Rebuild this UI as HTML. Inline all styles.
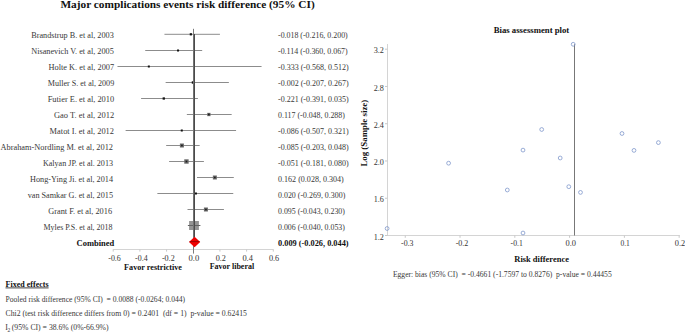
<!DOCTYPE html><html><head><meta charset="utf-8"><style>html,body{margin:0;padding:0;background:#fff;}svg{display:block;}text{font-family:"Liberation Serif",serif;white-space:pre;}</style></head><body>
<svg width="685" height="332" viewBox="0 0 685 332">
<rect width="685" height="332" fill="#fff"/>
<text x="60.4" y="7.7" font-size="10" font-weight="bold" fill="#111" textLength="254.3" lengthAdjust="spacingAndGlyphs">Major complications events risk difference (95% CI)</text>
<line x1="112.9" y1="249.5" x2="273.6" y2="249.5" stroke="#d4d4d4" stroke-width="1"/>
<line x1="113.21" y1="249.5" x2="113.21" y2="251.6" stroke="#c8c8c8" stroke-width="1"/>
<line x1="139.89" y1="249.5" x2="139.89" y2="251.6" stroke="#c8c8c8" stroke-width="1"/>
<line x1="166.57" y1="249.5" x2="166.57" y2="251.6" stroke="#c8c8c8" stroke-width="1"/>
<line x1="219.93" y1="249.5" x2="219.93" y2="251.6" stroke="#c8c8c8" stroke-width="1"/>
<line x1="246.61" y1="249.5" x2="246.61" y2="251.6" stroke="#c8c8c8" stroke-width="1"/>
<line x1="273.29" y1="249.5" x2="273.29" y2="251.6" stroke="#c8c8c8" stroke-width="1"/>
<text x="108.3" y="260.8" font-size="8.4" fill="#333" textLength="12.5" lengthAdjust="spacingAndGlyphs">-0.6</text>
<text x="135.1" y="260.8" font-size="8.4" fill="#333" textLength="12.5" lengthAdjust="spacingAndGlyphs">-0.4</text>
<text x="161.9" y="260.8" font-size="8.4" fill="#333" textLength="12.8" lengthAdjust="spacingAndGlyphs">-0.2</text>
<text x="188.6" y="260.8" font-size="8.4" fill="#333" textLength="10.7" lengthAdjust="spacingAndGlyphs">0.0</text>
<text x="215.7" y="260.8" font-size="8.4" fill="#333" textLength="10.2" lengthAdjust="spacingAndGlyphs">0.2</text>
<text x="242.4" y="260.8" font-size="8.4" fill="#333" textLength="10.5" lengthAdjust="spacingAndGlyphs">0.4</text>
<text x="268.9" y="260.8" font-size="8.4" fill="#333" textLength="10.3" lengthAdjust="spacingAndGlyphs">0.6</text>
<line x1="164.44" y1="34.30" x2="219.93" y2="34.30" stroke="#8c8c8c" stroke-width="1"/>
<line x1="145.23" y1="50.50" x2="202.19" y2="50.50" stroke="#8c8c8c" stroke-width="1"/>
<line x1="117.48" y1="66.50" x2="261.55" y2="66.50" stroke="#8c8c8c" stroke-width="1"/>
<line x1="165.64" y1="82.50" x2="228.87" y2="82.50" stroke="#8c8c8c" stroke-width="1"/>
<line x1="141.09" y1="98.50" x2="197.92" y2="98.50" stroke="#8c8c8c" stroke-width="1"/>
<line x1="186.85" y1="114.50" x2="231.67" y2="114.50" stroke="#8c8c8c" stroke-width="1"/>
<line x1="125.62" y1="130.50" x2="236.07" y2="130.50" stroke="#8c8c8c" stroke-width="1"/>
<line x1="166.17" y1="145.50" x2="199.65" y2="145.50" stroke="#8c8c8c" stroke-width="1"/>
<line x1="169.10" y1="161.50" x2="203.92" y2="161.50" stroke="#8c8c8c" stroke-width="1"/>
<line x1="196.99" y1="177.50" x2="233.80" y2="177.50" stroke="#8c8c8c" stroke-width="1"/>
<line x1="157.37" y1="193.50" x2="233.27" y2="193.50" stroke="#8c8c8c" stroke-width="1"/>
<line x1="187.51" y1="209.50" x2="223.93" y2="209.50" stroke="#8c8c8c" stroke-width="1"/>
<line x1="187.91" y1="225.50" x2="200.32" y2="225.50" stroke="#8c8c8c" stroke-width="1"/>
<rect x="189.75" y="33.20" width="2.20" height="2.20" fill="#111"/>
<rect x="177.04" y="49.50" width="2.00" height="2.00" fill="#111"/>
<rect x="147.83" y="65.50" width="2.00" height="2.00" fill="#111"/>
<rect x="191.78" y="81.30" width="2.40" height="2.40" fill="#111"/>
<rect x="162.62" y="97.35" width="2.30" height="2.30" fill="#111"/>
<rect x="207.21" y="112.85" width="3.30" height="3.30" fill="#6a6a6a"/>
<rect x="208.06" y="113.70" width="1.6" height="1.6" fill="#1a1a1a"/>
<rect x="180.78" y="129.50" width="2.00" height="2.00" fill="#111"/>
<rect x="179.91" y="143.50" width="4.00" height="4.00" fill="#6a6a6a"/>
<rect x="181.11" y="144.70" width="1.6" height="1.6" fill="#1a1a1a"/>
<rect x="184.25" y="159.30" width="4.40" height="4.40" fill="#6a6a6a"/>
<rect x="185.65" y="160.70" width="1.6" height="1.6" fill="#1a1a1a"/>
<rect x="212.86" y="175.50" width="4.00" height="4.00" fill="#6a6a6a"/>
<rect x="214.06" y="176.70" width="1.6" height="1.6" fill="#1a1a1a"/>
<rect x="194.92" y="192.50" width="2.00" height="2.00" fill="#111"/>
<rect x="203.92" y="207.50" width="4.00" height="4.00" fill="#6a6a6a"/>
<rect x="205.12" y="208.70" width="1.6" height="1.6" fill="#1a1a1a"/>
<rect x="189.1" y="221.0" width="9.8" height="9.0" fill="#949494"/>
<line x1="187.91" y1="225.50" x2="200.32" y2="225.50" stroke="#444" stroke-width="1" opacity="0.6"/>
<line x1="193.5" y1="28.8" x2="193.5" y2="253.6" stroke="#7c7c7c" stroke-width="1"/>
<line x1="194.4" y1="34" x2="194.4" y2="237" stroke="#4a4a4a" stroke-width="1.2"/>
<polygon points="189.0,241.9 194.6,236.7 200.2,241.9 194.6,247.2" fill="#ee0000"/>
<line x1="189.6" y1="241.6" x2="199.6" y2="241.6" stroke="#a00000" stroke-width="1"/>
<text x="31.2" y="38.30" font-size="8.7" fill="#383838" textLength="82.6" lengthAdjust="spacingAndGlyphs">Brandstrup B. et al, 2003</text>
<text x="278.0" y="38.30" font-size="8.2" fill="#383838" textLength="69.7" lengthAdjust="spacingAndGlyphs">-0.018 (-0.216, 0.200)</text>
<text x="31.2" y="54.27" font-size="8.7" fill="#383838" textLength="82.6" lengthAdjust="spacingAndGlyphs">Nisanevich V. et al, 2005</text>
<text x="278.0" y="54.27" font-size="8.2" fill="#383838" textLength="69.7" lengthAdjust="spacingAndGlyphs">-0.114 (-0.360, 0.067)</text>
<text x="48.5" y="70.24" font-size="8.7" fill="#383838" textLength="65.7" lengthAdjust="spacingAndGlyphs">Holte K. et al, 2007</text>
<text x="278.0" y="70.24" font-size="8.2" fill="#383838" textLength="70.6" lengthAdjust="spacingAndGlyphs">-0.333 (-0.568, 0.512)</text>
<text x="47.7" y="86.21" font-size="8.7" fill="#383838" textLength="66.5" lengthAdjust="spacingAndGlyphs">Muller S. et al, 2009</text>
<text x="278.0" y="86.21" font-size="8.2" fill="#383838" textLength="70.6" lengthAdjust="spacingAndGlyphs">-0.002 (-0.207, 0.267)</text>
<text x="47.7" y="102.18" font-size="8.7" fill="#383838" textLength="66.5" lengthAdjust="spacingAndGlyphs">Futier E. et al, 2010</text>
<text x="278.0" y="102.18" font-size="8.2" fill="#383838" textLength="70.6" lengthAdjust="spacingAndGlyphs">-0.221 (-0.391, 0.035)</text>
<text x="54.0" y="118.15" font-size="8.7" fill="#383838" textLength="60.2" lengthAdjust="spacingAndGlyphs">Gao T. et al, 2012</text>
<text x="278.0" y="118.15" font-size="8.2" fill="#383838" textLength="66.9" lengthAdjust="spacingAndGlyphs">0.117 (-0.048, 0.288)</text>
<text x="49.6" y="134.12" font-size="8.7" fill="#383838" textLength="64.4" lengthAdjust="spacingAndGlyphs">Matot I. et al, 2012</text>
<text x="278.0" y="134.12" font-size="8.2" fill="#383838" textLength="70.6" lengthAdjust="spacingAndGlyphs">-0.086 (-0.507, 0.321)</text>
<text x="0.5" y="150.09" font-size="8.7" fill="#383838" textLength="112.5" lengthAdjust="spacingAndGlyphs">Abraham-Nordling M. et al, 2012</text>
<text x="278.0" y="150.09" font-size="8.2" fill="#383838" textLength="70.6" lengthAdjust="spacingAndGlyphs">-0.085 (-0.203, 0.048)</text>
<text x="42.9" y="166.06" font-size="8.7" fill="#383838" textLength="70.1" lengthAdjust="spacingAndGlyphs">Kalyan JP. et al. 2013</text>
<text x="278.0" y="166.06" font-size="8.2" fill="#383838" textLength="70.6" lengthAdjust="spacingAndGlyphs">-0.051 (-0.181, 0.080)</text>
<text x="30.1" y="182.03" font-size="8.7" fill="#383838" textLength="82.9" lengthAdjust="spacingAndGlyphs">Hong-Ying Ji. et al, 2014</text>
<text x="278.0" y="182.03" font-size="8.2" fill="#383838" textLength="65.8" lengthAdjust="spacingAndGlyphs">0.162 (0.028, 0.304)</text>
<text x="27.7" y="198.00" font-size="8.7" fill="#383838" textLength="85.3" lengthAdjust="spacingAndGlyphs">van Samkar G. et al, 2015</text>
<text x="278.0" y="198.00" font-size="8.2" fill="#383838" textLength="67.3" lengthAdjust="spacingAndGlyphs">0.020 (-0.269, 0.300)</text>
<text x="48.2" y="213.97" font-size="8.7" fill="#383838" textLength="63.9" lengthAdjust="spacingAndGlyphs">Grant F. et al, 2016</text>
<text x="278.0" y="213.97" font-size="8.2" fill="#383838" textLength="66.9" lengthAdjust="spacingAndGlyphs">0.095 (-0.043, 0.230)</text>
<text x="43.4" y="229.94" font-size="8.7" fill="#383838" textLength="69.1" lengthAdjust="spacingAndGlyphs">Myles P.S. et al, 2018</text>
<text x="278.0" y="229.94" font-size="8.2" fill="#383838" textLength="66.9" lengthAdjust="spacingAndGlyphs">0.006 (-0.040, 0.053)</text>
<text x="76.6" y="245.91" font-size="8.6" font-weight="bold" fill="#111" textLength="37.6" lengthAdjust="spacingAndGlyphs">Combined</text>
<text x="278.0" y="245.91" font-size="8.4" font-weight="bold" fill="#111" textLength="70.6" lengthAdjust="spacingAndGlyphs">0.009 (-0.026, 0.044)</text>
<text x="124.1" y="270.0" font-size="8.5" font-weight="bold" fill="#111" textLength="57.9" lengthAdjust="spacingAndGlyphs">Favor restrictive</text>
<text x="209.7" y="269.4" font-size="8.5" font-weight="bold" fill="#111" textLength="44.5" lengthAdjust="spacingAndGlyphs">Favor liberal</text>
<text x="5.5" y="286.7" font-size="8.2" font-weight="bold" fill="#111" textLength="43.1" lengthAdjust="spacingAndGlyphs">Fixed effects</text>
<line x1="5.5" y1="287.9" x2="48.6" y2="287.9" stroke="#111" stroke-width="0.8"/>
<text x="5.5" y="301.7" font-size="7.9" fill="#383838" textLength="179.6" lengthAdjust="spacingAndGlyphs">Pooled risk difference (95% CI)  = 0.0088 (-0.0264; 0.044)</text>
<text x="5.5" y="315.6" font-size="7.9" fill="#383838" textLength="241.4" lengthAdjust="spacingAndGlyphs">Chi2 (test risk difference differs from 0) = 0.2401  (df = 1)  p-value = 0.62415</text>
<text x="5.3" y="329.9" font-size="7.9" fill="#383838">I</text>
<text x="7.6" y="332.3" font-size="5.5" fill="#383838">2</text>
<text x="11.8" y="329.9" font-size="7.9" fill="#383838" textLength="96.8" lengthAdjust="spacingAndGlyphs">(95% CI) = 38.6% (0%-66.9%)</text>
<text x="493.7" y="33.1" font-size="8.7" font-weight="bold" fill="#111" textLength="75.6" lengthAdjust="spacingAndGlyphs">Bias assessment plot</text>
<line x1="387.5" y1="44" x2="387.5" y2="236" stroke="#d4d4d4" stroke-width="1"/>
<line x1="387" y1="235.5" x2="679.8" y2="235.5" stroke="#d4d4d4" stroke-width="1"/>
<line x1="385" y1="49.20" x2="387.5" y2="49.20" stroke="#c8c8c8" stroke-width="1"/>
<text x="373.7" y="53.30" font-size="8.2" fill="#333" textLength="10.2" lengthAdjust="spacingAndGlyphs">3.2</text>
<line x1="385" y1="86.46" x2="387.5" y2="86.46" stroke="#c8c8c8" stroke-width="1"/>
<text x="373.7" y="90.56" font-size="8.2" fill="#333" textLength="10.2" lengthAdjust="spacingAndGlyphs">2.8</text>
<line x1="385" y1="123.72" x2="387.5" y2="123.72" stroke="#c8c8c8" stroke-width="1"/>
<text x="373.7" y="127.82" font-size="8.2" fill="#333" textLength="10.2" lengthAdjust="spacingAndGlyphs">2.4</text>
<line x1="385" y1="160.98" x2="387.5" y2="160.98" stroke="#c8c8c8" stroke-width="1"/>
<text x="373.7" y="165.08" font-size="8.2" fill="#333" textLength="10.2" lengthAdjust="spacingAndGlyphs">2.0</text>
<line x1="385" y1="198.24" x2="387.5" y2="198.24" stroke="#c8c8c8" stroke-width="1"/>
<text x="373.7" y="202.34" font-size="8.2" fill="#333" textLength="10.2" lengthAdjust="spacingAndGlyphs">1.6</text>
<line x1="385" y1="235.50" x2="387.5" y2="235.50" stroke="#c8c8c8" stroke-width="1"/>
<text x="373.7" y="239.60" font-size="8.2" fill="#333" textLength="10.2" lengthAdjust="spacingAndGlyphs">1.2</text>
<line x1="405.26" y1="235.5" x2="405.26" y2="237.8" stroke="#c8c8c8" stroke-width="1"/>
<text x="401.1" y="246.0" font-size="8.2" fill="#333" textLength="12.4" lengthAdjust="spacingAndGlyphs">-0.3</text>
<line x1="460.04" y1="235.5" x2="460.04" y2="237.8" stroke="#c8c8c8" stroke-width="1"/>
<text x="455.7" y="246.0" font-size="8.2" fill="#333" textLength="12.7" lengthAdjust="spacingAndGlyphs">-0.2</text>
<line x1="514.82" y1="235.5" x2="514.82" y2="237.8" stroke="#c8c8c8" stroke-width="1"/>
<text x="510.6" y="246.0" font-size="8.2" fill="#333" textLength="12.2" lengthAdjust="spacingAndGlyphs">-0.1</text>
<line x1="569.60" y1="235.5" x2="569.60" y2="237.8" stroke="#c8c8c8" stroke-width="1"/>
<text x="565.5" y="246.0" font-size="8.2" fill="#333" textLength="10.5" lengthAdjust="spacingAndGlyphs">0.0</text>
<line x1="624.38" y1="235.5" x2="624.38" y2="237.8" stroke="#c8c8c8" stroke-width="1"/>
<text x="620.4" y="246.0" font-size="8.2" fill="#333" textLength="9.4" lengthAdjust="spacingAndGlyphs">0.1</text>
<line x1="679.16" y1="235.5" x2="679.16" y2="237.8" stroke="#c8c8c8" stroke-width="1"/>
<text x="674.8" y="246.0" font-size="8.2" fill="#333" textLength="10.4" lengthAdjust="spacingAndGlyphs">0.2</text>
<line x1="574.5" y1="44.3" x2="574.5" y2="235.5" stroke="#777" stroke-width="1"/>
<circle cx="573.2" cy="44.3" r="1.9" fill="none" stroke="#7892c8" stroke-width="0.75"/>
<circle cx="387.1" cy="228.5" r="1.9" fill="none" stroke="#7892c8" stroke-width="0.75"/>
<circle cx="448.6" cy="163.2" r="1.9" fill="none" stroke="#7892c8" stroke-width="0.75"/>
<circle cx="507.3" cy="190.0" r="1.9" fill="none" stroke="#7892c8" stroke-width="0.75"/>
<circle cx="523.0" cy="150.1" r="1.9" fill="none" stroke="#7892c8" stroke-width="0.75"/>
<circle cx="523.0" cy="233.0" r="1.9" fill="none" stroke="#7892c8" stroke-width="0.75"/>
<circle cx="541.7" cy="129.5" r="1.9" fill="none" stroke="#7892c8" stroke-width="0.75"/>
<circle cx="560.2" cy="158.0" r="1.9" fill="none" stroke="#7892c8" stroke-width="0.75"/>
<circle cx="568.8" cy="186.7" r="1.9" fill="none" stroke="#7892c8" stroke-width="0.75"/>
<circle cx="580.5" cy="192.4" r="1.9" fill="none" stroke="#7892c8" stroke-width="0.75"/>
<circle cx="622.0" cy="133.5" r="1.9" fill="none" stroke="#7892c8" stroke-width="0.75"/>
<circle cx="634.0" cy="150.4" r="1.9" fill="none" stroke="#7892c8" stroke-width="0.75"/>
<circle cx="658.4" cy="142.6" r="1.9" fill="none" stroke="#7892c8" stroke-width="0.75"/>
<text x="514.3" y="261.7" font-size="8.5" font-weight="bold" fill="#111" textLength="54.6" lengthAdjust="spacingAndGlyphs">Risk difference</text>
<text transform="translate(366.7,166.6) rotate(-90)" x="0" y="0" font-size="8.6" font-weight="bold" fill="#111" textLength="66.8" lengthAdjust="spacingAndGlyphs">Log (Sample size)</text>
<text x="392.9" y="277.0" font-size="7.7" fill="#383838" textLength="218.8" lengthAdjust="spacingAndGlyphs">Egger: bias (95% CI)  = -0.4661 (-1.7597 to 0.8276)  p-value = 0.44455</text>
</svg></body></html>
